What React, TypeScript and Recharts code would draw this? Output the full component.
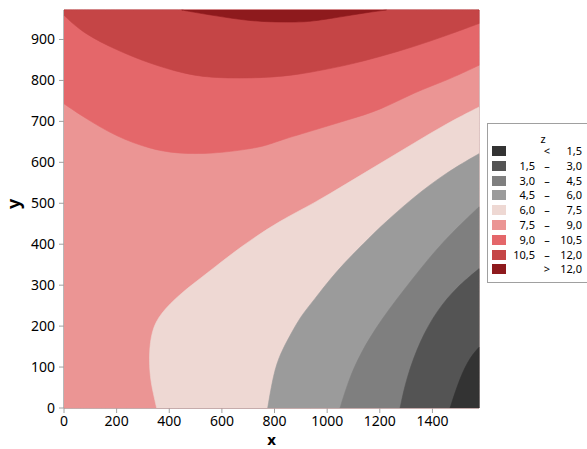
import React from 'react'
import { ScatterChart, Scatter, XAxis, YAxis, ReferenceArea } from 'recharts'

const X_MAX = 1577
const Y_MAX = 972

const xTicks = [0, 200, 400, 600, 800, 1000, 1200, 1400]
const yTicks = [0, 100, 200, 300, 400, 500, 600, 700, 800, 900]

// contour lines, [x, y]
const c12 = [[447, 972], [517, 964], [642, 951], [745, 943], [897, 942], [946, 945], [1011, 951], [1087, 959], [1163, 967], [1226, 972]]
const c105 = [[0, 959], [73, 915], [200, 874], [327, 841], [453, 817], [567, 805], [770, 806], [897, 815], [986, 826], [1074, 837], [1201, 858], [1328, 882], [1455, 910], [1577, 939]]
const c9 = [[0, 743], [73, 711], [200, 662], [327, 633], [428, 621], [567, 621], [700, 632], [770, 641], [821, 654], [948, 678], [1074, 703], [1201, 727], [1334, 772], [1455, 800], [1577, 837]]
const c75 = [[352, 0], [340, 34], [327, 75], [323, 132], [333, 189], [365, 230], [441, 279], [542, 328], [669, 393], [821, 458], [948, 499], [1074, 548], [1201, 597], [1328, 646], [1455, 695], [1577, 735]]
const c6 = [[774, 0], [796, 83], [821, 132], [859, 177], [897, 222], [948, 262], [1036, 336], [1150, 409], [1201, 442], [1328, 515], [1455, 576], [1577, 621]]
const c45 = [[1049, 0], [1081, 67], [1125, 132], [1201, 213], [1328, 319], [1442, 409], [1577, 491]]
const c3 = [[1277, 0], [1302, 75], [1353, 165], [1417, 238], [1492, 295], [1577, 340]]
const c15 = [[1467, 0], [1505, 75], [1543, 124], [1577, 148]]

const colors = ['#333333', '#545454', '#7f7f7f', '#9b9b9b', '#eed8d3', '#eb9594', '#e4676a', '#c54546', '#8e1a1d']
const zLow = ['', '1,5', '3,0', '4,5', '6,0', '7,5', '9,0', '10,5', '']
const zHigh = ['1,5', '3,0', '4,5', '6,0', '7,5', '9,0', '10,5', '12,0', '12,0']

// a point repeated three times pins the basis spline to it
const pin = (p: number[]) => [p, p, p]
const toPts = (c: number[][]) => c.map(([x, y]) => ({ x, y }))
const ends = (c: number[][]) => [...pin(c[0]), ...c.slice(1, -1), ...pin(c[c.length - 1])]
const top = (c: number[][]) => toPts([...ends(c), ...pin([X_MAX, Y_MAX]), ...pin([0, Y_MAX])])
const bottom = (c: number[][]) => toPts([...ends(c), ...pin([X_MAX, 0])])

// painted in this order, each one over the last
const regions = [
  { color: colors[5], pts: toPts([...pin([0, 0]), ...pin([X_MAX, 0]), ...pin([X_MAX, Y_MAX]), ...pin([0, Y_MAX])]) },
  { color: colors[6], pts: top(c9) },
  { color: colors[7], pts: top(c105) },
  { color: colors[8], pts: toPts(ends(c12)) },
  { color: colors[4], pts: bottom(c75) },
  { color: colors[3], pts: bottom(c6) },
  { color: colors[2], pts: bottom(c45) },
  { color: colors[1], pts: bottom(c3) },
  { color: colors[0], pts: bottom(c15) },
]

const font = "'Noto Sans', sans-serif"
const axisGrey = '#a0a0a0'

function ZLegend() {
  return (
    <div style={{ position: 'absolute', left: 487, top: 123, width: 110, height: 158, border: `1px solid ${axisGrey}`, background: '#fff', fontSize: 11, color: '#000' }}>
      <div style={{ position: 'absolute', left: 50, top: 7, width: 10, textAlign: 'center' }}>z</div>
      {colors.map((c, i) => {
        const y = 22 + i * 14.8
        return (
          <div key={i}>
            <div style={{ position: 'absolute', left: 4, top: y, width: 14, height: 10, background: c }} />
            <div style={{ position: 'absolute', left: 10, top: y - 3, width: 37, textAlign: 'right' }}>{zLow[i]}</div>
            <div style={{ position: 'absolute', left: 52, top: y - 3, width: 14, textAlign: 'center' }}>
              {i === 0 ? '<' : i === colors.length - 1 ? '>' : '–'}
            </div>
            <div style={{ position: 'absolute', left: 64, top: y - 3, width: 30, textAlign: 'right' }}>{zHigh[i]}</div>
          </div>
        )
      })}
    </div>
  )
}

export default function App() {
  return (
    <div style={{ position: 'fixed', left: 0, top: 0, width: 587, height: 449, fontFamily: font, background: '#fff', overflow: 'hidden' }}>
      <ScatterChart width={587} height={449} margin={{ top: 10, right: 108, bottom: 0, left: 0 }}>
        <XAxis
          dataKey="x" type="number" domain={[0, X_MAX]} ticks={xTicks} height={41}
          tick={{ fill: '#000', fontSize: 14, fontFamily: font }} tickSize={5} tickMargin={3}
          axisLine={{ stroke: axisGrey }} tickLine={{ stroke: axisGrey }}
          label={{ value: 'x', position: 'insideBottom', offset: 4, fill: '#000', fontSize: 15, fontWeight: 'bold', fontFamily: font }}
        />
        <YAxis
          dataKey="y" type="number" domain={[0, Y_MAX]} ticks={yTicks} width={64}
          tick={{ fill: '#000', fontSize: 14, fontFamily: font }} tickSize={5} tickMargin={4}
          axisLine={{ stroke: axisGrey }} tickLine={{ stroke: axisGrey }}
          label={{ value: 'y', angle: -90, position: 'insideLeft', offset: 14, fill: '#000', fontSize: 18, fontWeight: 'bold', fontFamily: font }}
        />
        {regions.map((r, i) => (
          <Scatter
            key={i}
            data={r.pts}
            shape={() => <g />}
            line={{ fill: r.color, stroke: r.color, strokeWidth: 0.6 }}
            lineJointType="basis"
            isAnimationActive={false}
          />
        ))}
        <ReferenceArea x1={0} x2={X_MAX} y1={0} y2={Y_MAX} fill="none" stroke={axisGrey} strokeWidth={1} />
      </ScatterChart>
      <ZLegend />
    </div>
  )
}
